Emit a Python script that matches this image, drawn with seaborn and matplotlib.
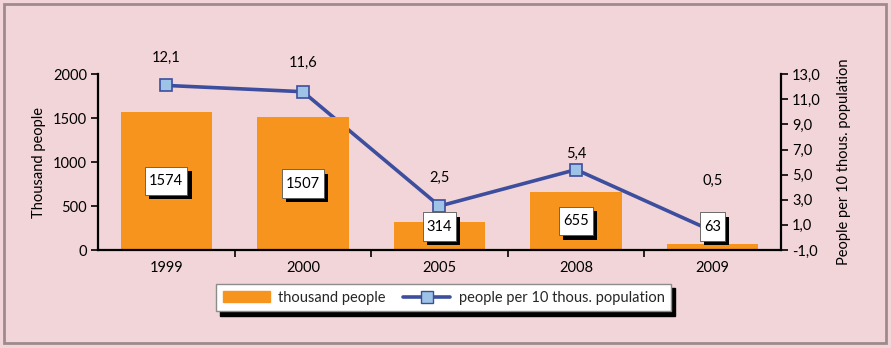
import numpy as np
import pandas as pd
import matplotlib
matplotlib.use("Agg")
import matplotlib.pyplot as plt
import seaborn as sns
from matplotlib.patches import Rectangle, Patch
from matplotlib.lines import Line2D
from matplotlib.path import Path
import matplotlib.patheffects as pe

years = ["1999", "2000", "2005", "2008", "2009"]
thousand_people = [1574, 1507, 314, 655, 63]
per_10k = [12.1, 11.6, 2.5, 5.4, 0.5]
per_10k_labels = ["12,1", "11,6", "2,5", "5,4", "0,5"]
left_ticks = [0, 500, 1000, 1500, 2000]
right_ticks = [-1, 1, 3, 5, 7, 9, 11, 13]

BG = "#F1D5D8"
BAR = "#F7941D"
LINE = "#3D4E9E"
MARK = "#9DC3E6"
FS = 10.5

sns.set_theme(style="white")
plt.rcParams["font.family"] = ["Lato", "DejaVu Sans"]

fig = plt.figure(figsize=(8.91, 3.48), dpi=100, facecolor=BG)
ax = fig.add_axes([0.110, 0.2816, 0.7665, 0.5054])
ax.set_facecolor(BG)

df = pd.DataFrame({"year": years, "val": thousand_people, "rate": per_10k})
sns.barplot(data=df, x="year", y="val", color=BAR, saturation=1, width=0.67,
            ax=ax, legend=False, linewidth=0, edgecolor=BAR)
ax.set_ylim(0, 2000)
ax.set_yticks(left_ticks)
ax.set_xlim(-0.5, 4.5)
ax.set_xlabel("")
ax.set_ylabel("Thousand people", fontsize=FS, color="black", labelpad=5)

ax2 = ax.twinx()
sns.pointplot(data=df, x="year", y="rate", ax=ax2, color=LINE, marker="s",
              markersize=9, markeredgecolor=LINE, markerfacecolor=MARK,
              markeredgewidth=1.2, linewidth=2.6)
ax2.set_ylim(-1, 13)
ax2.set_yticks(right_ticks)
ax2.set_yticklabels([f"{t:.1f}".replace(".", ",") for t in right_ticks])
ax2.set_xlim(-0.5, 4.5)
ax2.set_xlabel("")
ax2.set_ylabel("People per 10 thous. population", fontsize=FS, color="black", labelpad=12)
if ax2.get_legend():
    ax2.get_legend().remove()

for a in (ax, ax2):
    for s in a.spines.values():
        s.set_visible(False)
ax.spines["left"].set_visible(True)
ax.spines["bottom"].set_visible(True)
ax2.spines["right"].set_visible(True)
for s in ("left", "bottom"):
    ax.spines[s].set_color("black")
    ax.spines[s].set_linewidth(1.6)
ax2.spines["right"].set_color("black")
ax2.spines["right"].set_linewidth(1.6)

ax.tick_params(axis="y", which="major", direction="out", length=5, width=1.2,
               color="black", labelsize=FS, labelcolor="black", left=True, pad=3)
ax2.tick_params(axis="y", which="major", direction="out", length=5, width=1.2,
                color="black", labelsize=FS, labelcolor="black", right=True, pad=3)
ax.set_xticks(range(len(years)))
ax.set_xticklabels(years)
ax.tick_params(axis="x", which="major", length=0, labelsize=FS, labelcolor="black", pad=8)
ax.set_xticks(np.arange(0.5, len(years) - 0.5), minor=True)
ax.tick_params(axis="x", which="minor", direction="out", length=5, width=1.2,
               color="black", bottom=True)
ax2.tick_params(axis="x", which="both", length=0, labelbottom=False, bottom=False)


def label_box(x0, y0, width, height, mutation_size):
    px = 0.28 * mutation_size
    py = 0.5 * mutation_size
    x0, y0 = x0 - px, y0 - py
    x1, y1 = x0 + width + 2 * px, y0 + height + 2 * py
    return Path([(x0, y0), (x1, y0), (x1, y1), (x0, y1), (x0, y0)], closed=True)


# bar value labels in white boxes with black shadow
for i, v in enumerate(thousand_people):
    ypos = max(v / 2, 265)
    t = ax.annotate(str(v), (i, ypos), ha="center", va="center", fontsize=FS, color="black",
                    bbox=dict(boxstyle=label_box, fc="white", ec="#555555", lw=0.6),
                    zorder=6)
    t.get_bbox_patch().set_path_effects([
        pe.SimplePatchShadow(offset=(3, -3), shadow_rgbFace="black", alpha=1.0),
        pe.Normal()])
ax.set_zorder(2)
ax2.set_zorder(1)
ax.patch.set_visible(False)
ax2.patch.set_visible(False)

# line value labels
offsets = [20, 21, 20, 11, 36]
for i, (v, lab) in enumerate(zip(per_10k, per_10k_labels)):
    ax2.annotate(lab, (i, v), xytext=(0, offsets[i]), textcoords="offset points",
                 ha="center", va="center", fontsize=FS, color="black")

# legend
handles = [Patch(facecolor=BAR, edgecolor=BAR),
           Line2D([0], [0], color=LINE, lw=2.6, marker="s", markersize=8,
                  markerfacecolor=MARK, markeredgecolor=LINE)]
leg = fig.legend(handles, ["thousand people", "people per 10 thous. population"],
                 loc="center", bbox_to_anchor=(0.498, 0.144), ncol=2, fontsize=FS,
                 frameon=True, fancybox=False, shadow={"color": "black", "alpha": 1,
                                                       "ox": 3, "oy": -3},
                 edgecolor="#8C8C8C", facecolor="white", framealpha=1,
                 handlelength=3.2, handleheight=0.8, columnspacing=1.2,
                 borderpad=0.45, handletextpad=0.6)
leg.get_frame().set_linewidth(1.0)

# outer border
fig.patches.append(Rectangle((4 / 891, 5 / 348), 882 / 891, 339 / 348, transform=fig.transFigure,
                             fill=False, edgecolor="#9E8A8C", lw=2, zorder=10))

fig.savefig("out.png", dpi=100, facecolor=BG)
